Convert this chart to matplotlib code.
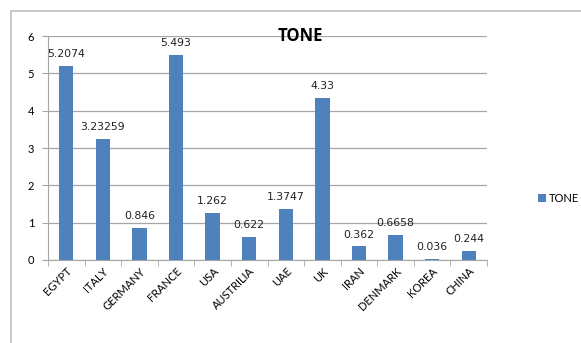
from matplotlib import pyplot as plt
from matplotlib.patches import Rectangle
import numpy as np

countries = ["EGYPT", "ITALY", "GERMANY", "FRANCE", "USA", "AUSTRILIA",
             "UAE", "UK", "IRAN", "DENMARK", "KOREA", "CHINA"]
tone = [5.2074, 3.23259, 0.846, 5.493, 1.262, 0.622,
        1.3747, 4.33, 0.362, 0.6658, 0.036, 0.244]
tone_labels = ["5.2074", "3.23259", "0.846", "5.493", "1.262", "0.622",
               "1.3747", "4.33", "0.362", "0.6658", "0.036", "0.244"]

BLUE = "#4f81bd"
GRID = "#a6a6a6"

fig = plt.figure(figsize=(5.81, 3.43), dpi=100)
W, H = 581, 343

# outer chart border
fig.patches.append(Rectangle((11 / W, -0.1), 1.0, (H - 11) / H + 0.1,
                             transform=fig.transFigure, fill=False,
                             edgecolor="#bfbfbf", linewidth=1.2))

ax = fig.add_axes([48 / W, 1 - 260 / H, (487 - 48) / W, (260 - 36) / H])

x = np.arange(len(countries))
ax.bar(x, tone, width=0.39, color=BLUE, label="TONE", zorder=3)

for xi, v, lbl in zip(x, tone, tone_labels):
    ax.annotate(lbl, (xi, v), xytext=(0, 5), textcoords="offset points",
                ha="center", va="bottom", fontsize=7.8,
                family="DejaVu Sans", color="#222222")

ax.set_xlim(-0.5, len(countries) - 0.5)
ax.set_ylim(0, 6)
ax.set_yticks(range(7))
ax.yaxis.grid(True, color=GRID, linewidth=0.9, zorder=0)

ax.set_xticks(x)
ax.set_xticklabels(countries, rotation=45, ha="right", rotation_mode="anchor",
                   fontsize=8, family="Lato")
ax.tick_params(axis="x", length=0, pad=4)
ax.set_xticks(np.arange(-0.5, len(countries)), minor=True)
ax.tick_params(axis="x", which="minor", length=4, color=GRID)
ax.tick_params(axis="y", length=4, color=GRID, labelsize=8, pad=6)
for lab in ax.get_yticklabels():
    lab.set_family("Lato")

for side in ["top", "right"]:
    ax.spines[side].set_visible(False)
for side in ["left", "bottom"]:
    ax.spines[side].set_color(GRID)

fig.text(300 / W, 1 - 36 / H, "TONE", ha="center", va="center",
         fontsize=12, fontweight="bold", family="Open Sans")

fig.legend(loc="center left", bbox_to_anchor=(536 / W, 1 - 198 / H),
           frameon=False, handlelength=0.7, handleheight=0.7,
           handletextpad=0.25, borderpad=0.2, borderaxespad=0,
           prop={"family": "Lato", "size": 8})

plt.savefig("out.png")
